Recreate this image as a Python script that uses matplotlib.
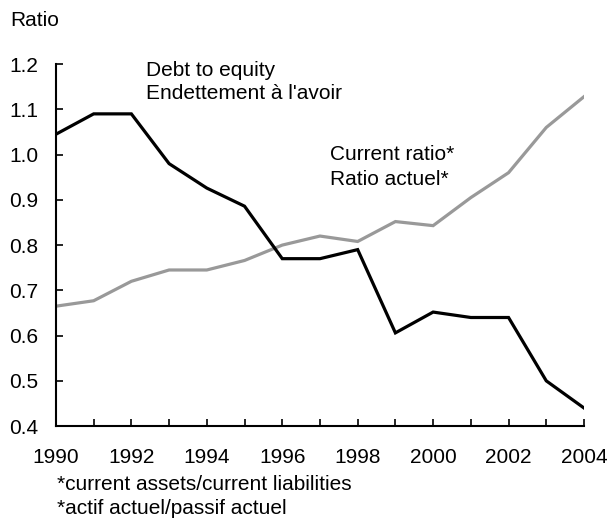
import matplotlib
matplotlib.use("Agg")
import matplotlib.pyplot as plt
from matplotlib.ticker import MultipleLocator, FormatStrFormatter

years = list(range(1990, 2005))
debt_to_equity = [1.045, 1.09, 1.09, 0.98, 0.926, 0.886, 0.77, 0.77, 0.79, 0.606,
                  0.652, 0.64, 0.64, 0.50, 0.44]
current_ratio = [0.665, 0.677, 0.72, 0.745, 0.745, 0.766, 0.80, 0.82, 0.808, 0.852,
                 0.843, 0.905, 0.96, 1.06, 1.128]

plt.rcParams['font.family'] = ['Liberation Sans', 'DejaVu Sans']
plt.rcParams['font.size'] = 15

fig = plt.figure(figsize=(6.08, 5.19), dpi=100)
ax = fig.add_axes([0.092, 0.179, 0.8685, 0.6975])

ax.plot(years, current_ratio, color='#999999', lw=2.3, solid_joinstyle='miter')
ax.plot(years, debt_to_equity, color='black', lw=2.3, solid_joinstyle='miter')

ax.set_xlim(1990, 2004)
ax.set_ylim(0.4, 1.2)
ax.xaxis.set_major_locator(MultipleLocator(2))
ax.xaxis.set_minor_locator(MultipleLocator(1))
ax.yaxis.set_major_locator(MultipleLocator(0.1))
ax.yaxis.set_major_formatter(FormatStrFormatter('%.1f'))

for s in ['top', 'right']:
    ax.spines[s].set_visible(False)
for s in ['left', 'bottom']:
    ax.spines[s].set_linewidth(1.5)
ax.tick_params(axis='both', which='both', direction='in', width=1.2, length=5)
ax.tick_params(axis='x', which='major', pad=15.5)
ax.tick_params(axis='y', which='major', pad=12.5)

ax.text(0.170, 0.981, 'Debt to equity', transform=ax.transAxes, va='center')
ax.text(0.170, 0.918, "Endettement à l'avoir", transform=ax.transAxes, va='center')
ax.text(0.519, 0.749, 'Current ratio*', transform=ax.transAxes, va='center')
ax.text(0.519, 0.680, 'Ratio actuel*', transform=ax.transAxes, va='center')

fig.text(10 / 608, 1 - 20 / 519, 'Ratio', va='center')
fig.text(0.094, 1 - 485 / 519, '*current assets/current liabilities', va='center')
fig.text(0.094, 1 - 509 / 519, '*actif actuel/passif actuel', va='center')

fig.savefig('out.png', dpi=100)
